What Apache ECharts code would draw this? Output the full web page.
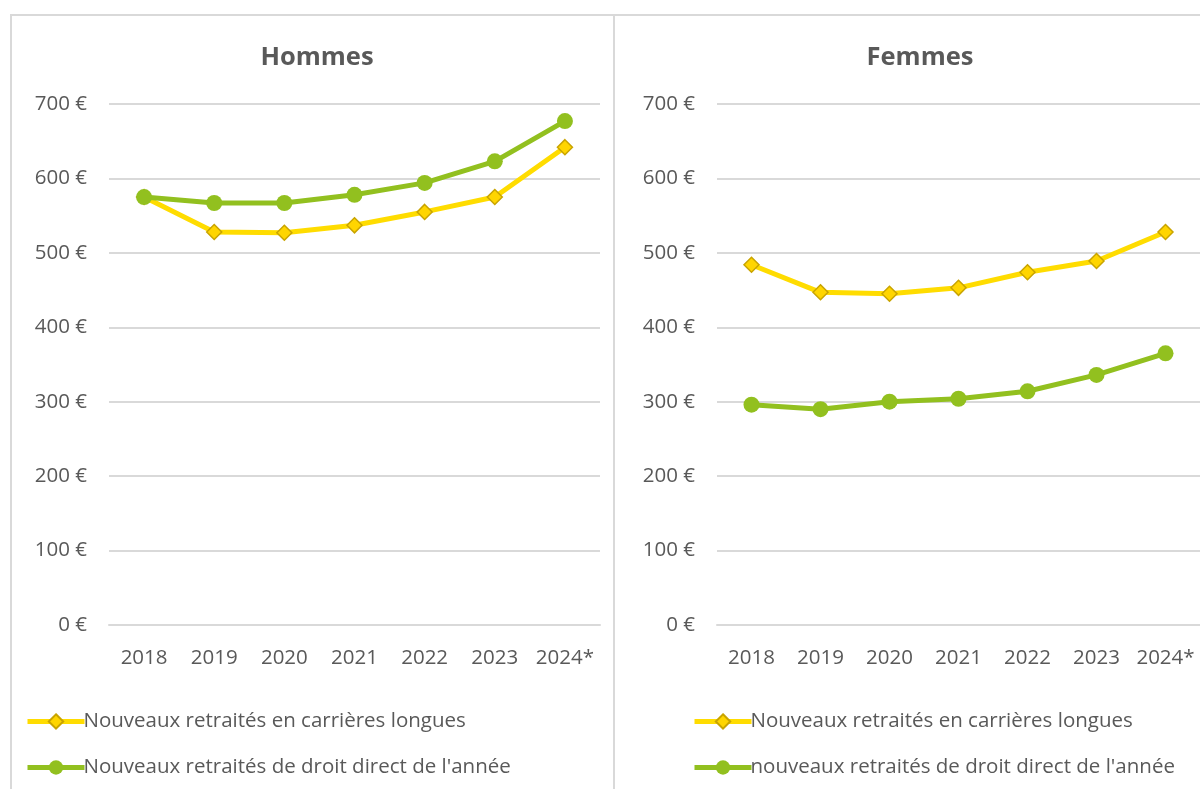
<!DOCTYPE html>
<html>
<head>
<meta charset="utf-8">
<script src="https://cdn.jsdelivr.net/npm/echarts@6/dist/echarts.min.js"></script>
<style>
  html, body { margin: 0; padding: 0; background: #fff; }
  #chart { width: 1200px; height: 789px; }
</style>
</head>
<body>
<div id="chart"></div>
<script>
// Monthly amounts (€) for new retirees, by year
const years = ['2018', '2019', '2020', '2021', '2022', '2023', '2024*'];
const yTicks = [0, 100, 200, 300, 400, 500, 600, 700];

const hommesLongues = [575, 528, 527, 537, 555, 575, 642];
const hommesDroitDirect = [575, 567, 567, 578, 594, 623, 677];
const femmesLongues = [484, 447, 445, 453, 474, 489, 528];
const femmesDroitDirect = [296, 290, 300, 304, 314, 336, 365];

const nameLongues = 'Nouveaux retraités en carrières longues';
const nameDroitH = "Nouveaux retraités de droit direct de l'année";
const nameDroitF = "nouveaux retraités de droit direct de l'année";

const FONT = 'Open Sans';
const TEXT = '#595959';
const GRIDLINE = '#d9d9d9';
const YELLOW = '#FFDC00';
const GREEN = '#92C01F';

const chart = echarts.init(document.getElementById('chart'), null, { renderer: 'canvas' });

function xAxis(gridIndex) {
  return {
    type: 'category', gridIndex, data: years, boundaryGap: true,
    axisLine: { show: true, lineStyle: { color: GRIDLINE, width: 2 } },
    axisTick: { show: false },
    axisLabel: { color: TEXT, fontFamily: FONT, fontSize: 20.5, margin: 23, interval: 0, hideOverlap: false }
  };
}
function yAxis(gridIndex) {
  return {
    type: 'value', gridIndex, min: yTicks[0], max: yTicks[yTicks.length - 1], interval: 100,
    axisLine: { show: false }, axisTick: { show: false },
    splitLine: { lineStyle: { color: GRIDLINE, width: 2 } },
    axisLabel: { color: TEXT, fontFamily: FONT, fontSize: 20.5, margin: 22, formatter: v => v + ' €' }
  };
}
function longues(name, data, idx) {
  return {
    name, type: 'line', data, xAxisIndex: idx, yAxisIndex: idx,
    symbol: 'diamond', symbolSize: 15,
    lineStyle: { color: YELLOW, width: 5 },
    itemStyle: { color: '#FFD500', borderColor: '#C9A400', borderWidth: 1.5 },
    z: 2
  };
}
function droit(name, data, idx) {
  return {
    name, type: 'line', data, xAxisIndex: idx, yAxisIndex: idx,
    symbol: 'circle', symbolSize: 16,
    lineStyle: { color: GREEN, width: 5 },
    itemStyle: { color: GREEN },
    z: 3
  };
}
function legend(left, names) {
  return {
    orient: 'vertical', left, top: 706, itemGap: 25,
    itemWidth: 57, itemHeight: 18,
    lineStyle: { width: 5 },
    textStyle: { color: TEXT, fontFamily: FONT, fontSize: 20.5, padding: [0, 0, 0, -6] },
    data: names, selectedMode: false
  };
}

chart.setOption({
  animation: false,
  backgroundColor: '#fff',
  graphic: [
    { type: 'rect', shape: { x: 11, y: 15, width: 603, height: 800 },
      style: { fill: 'none', stroke: GRIDLINE, lineWidth: 2 }, z: -1 },
    { type: 'rect', shape: { x: 614, y: 15, width: 600, height: 800 },
      style: { fill: 'none', stroke: GRIDLINE, lineWidth: 2 }, z: -1 }
  ],
  title: [
    { text: 'Hommes', left: 312, top: 40, textAlign: 'center',
      textStyle: { color: TEXT, fontFamily: FONT, fontSize: 25.5, fontWeight: 'bold' } },
    { text: 'Femmes', left: 915, top: 40, textAlign: 'center',
      textStyle: { color: TEXT, fontFamily: FONT, fontSize: 25.5, fontWeight: 'bold' } }
  ],
  legend: [
    legend(20, [nameLongues, nameDroitH]),
    legend(687, [nameLongues, nameDroitF])
  ],
  grid: [
    { left: 109, top: 104, width: 491, height: 521 },
    { left: 717, top: 104, width: 488, height: 521 }
  ],
  xAxis: [xAxis(0), xAxis(1)],
  yAxis: [yAxis(0), yAxis(1)],
  series: [
    longues(nameLongues, hommesLongues, 0),
    droit(nameDroitH, hommesDroitDirect, 0),
    longues(nameLongues, femmesLongues, 1),
    droit(nameDroitF, femmesDroitDirect, 1)
  ]
});
</script>
</body>
</html>
